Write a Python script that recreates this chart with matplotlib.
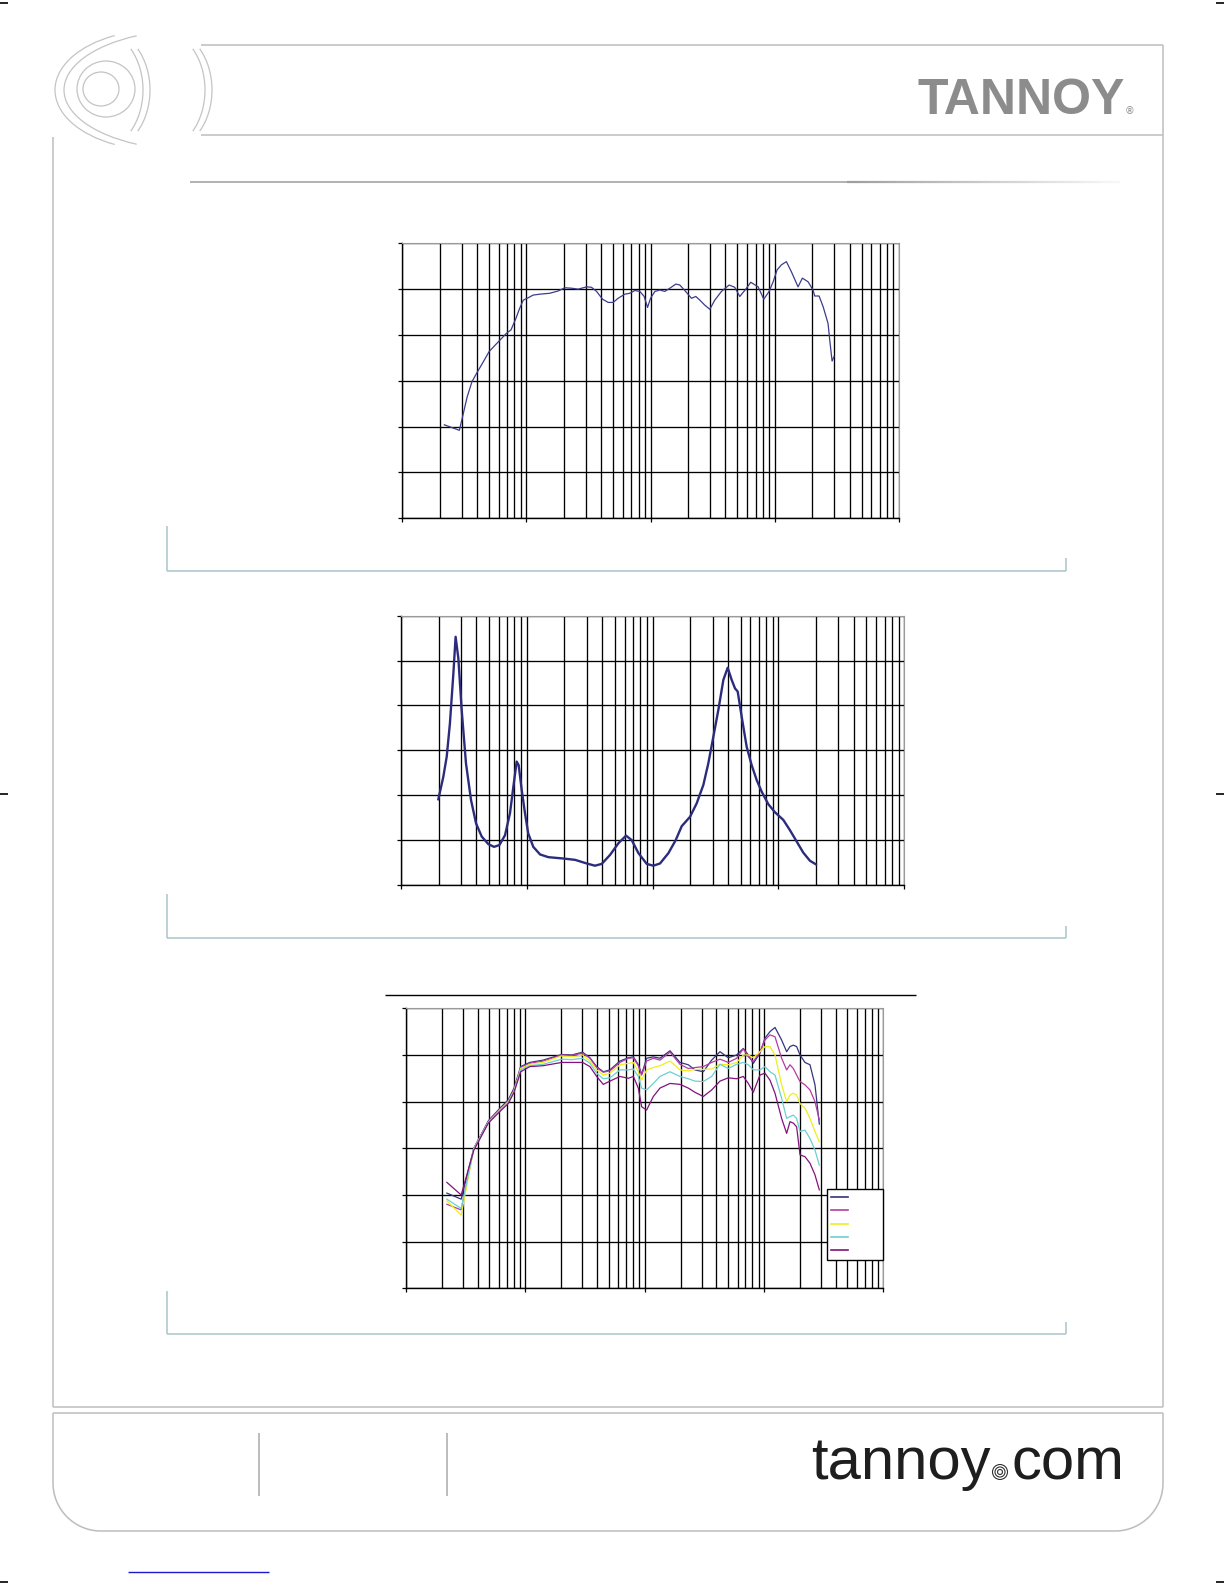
import numpy as np
import matplotlib
matplotlib.use("Agg")
import matplotlib.pyplot as plt
from matplotlib.patches import Arc, Ellipse, Circle
from matplotlib.lines import Line2D
from matplotlib.collections import LineCollection
from matplotlib.ticker import LogLocator, NullFormatter

# chart 1: on-axis frequency response (Hz, dB)
freq1 = [21.8, 28.8, 30.6, 33.3, 36.4, 39.6, 43.5, 50.1, 59.3, 69.2, 75.0, 82.2, 87.5, 94.2,
         103, 113, 128, 154, 180, 204, 231, 261, 305, 334, 367, 410, 455, 499, 547, 619, 680,
         746, 818, 887, 944, 998, 1081, 1186, 1301, 1427, 1595, 1717, 1884, 2133, 2311, 2489,
         2731, 2995, 3284, 3718, 4287, 4757, 5222, 5836, 6400, 7334, 8150, 8996, 9690, 10430,
         11300, 12390, 13590, 15380, 16670, 18520, 20320, 20950, 22710, 24470, 26840, 27680,
         28910, 29990]
spl1 = [60.4, 59.2, 62.2, 66.5, 69.8, 71.6, 73.5, 76.4, 78.5, 80.4, 81.1, 83.6, 85.6, 87.6,
        88.1, 88.7, 88.9, 89.1, 89.6, 90.3, 90.2, 90.0, 90.5, 90.4, 89.5, 87.8, 87.1, 87.1, 88.0,
        88.9, 89.1, 89.7, 89.5, 88.4, 86.0, 88.0, 89.5, 89.8, 89.5, 90.2, 91.1, 90.9, 89.7, 88.0,
        88.4, 87.6, 86.5, 85.6, 87.6, 89.5, 90.9, 90.4, 88.4, 90.0, 91.5, 90.5, 87.8, 89.5, 91.6,
        94.2, 95.3, 96.0, 93.8, 90.5, 92.4, 91.6, 89.8, 88.5, 88.5, 86.2, 82.5, 78.9, 74.3, 75.3]

# chart 2: impedance (Hz, ohm)
freq2 = [19.9, 21.8, 23.2, 24.6, 26.2, 27.3, 28.7, 30.5, 33.0, 36.2, 39.7, 44.0, 49.7, 55.1,
         60.8, 67.4, 73.8, 78.5, 83.4, 86.5, 91.4, 97.1, 103, 113, 128, 149, 196, 243, 300, 349,
         395, 460, 536, 616, 684, 773, 900, 1016, 1148, 1338, 1529, 1706, 1987, 2244, 2535, 2775,
         3041, 3334, 3655, 3954, 4256, 4522, 4750, 5108, 5598, 6133, 6719, 7364, 8318, 9396,
         10940, 12360, 13960, 15770, 17810, 19870]
imp2 = [19.1, 24.1, 28.6, 36.0, 47.1, 55.3, 50.5, 39.0, 27.1, 18.9, 13.7, 10.8, 9.1, 8.5, 8.9,
        11.1, 16.0, 21.9, 27.5, 26.7, 21.2, 16.0, 11.5, 8.5, 6.8, 6.2, 5.9, 5.6, 4.8, 4.3, 4.7,
        6.7, 9.3, 11.0, 10.0, 7.1, 4.7, 4.3, 4.8, 7.1, 10.0, 13.1, 15.2, 18.2, 22.3, 27.1, 33.0,
        39.0, 45.7, 48.4, 45.7, 43.8, 43.1, 37.5, 30.8, 26.7, 23.4, 20.8, 18.0, 16.2, 14.5, 12.2,
        9.7, 7.2, 5.4, 4.6]

# chart 3: off-axis responses (Hz, dB)
freq3 = [22, 29, 37, 40.4, 49, 61.3, 72, 80.4, 91.4, 109, 141, 202, 245, 302, 348, 396, 450,
         512, 621, 730, 804, 885, 944, 1039, 1182, 1344, 1631, 1978, 2322, 2641, 3101, 3643,
         4280, 5025, 5901, 6711, 7390, 8138, 9258, 10190, 11230, 12370, 14060, 15490, 16520,
         17620, 18780, 20040, 22060, 24300, 26760, 29090]
spl_0 = [60.4, 59.1, 70.0, 71.8, 75.9, 78.6, 80.4, 82.9, 87.5, 88.4, 88.9, 90.1, 90.0, 90.6,
         89.4, 87.5, 86.4, 86.8, 88.7, 89.4, 89.6, 87.9, 85.9, 89.3, 89.6, 89.3, 90.9, 88.4,
         87.9, 86.8, 86.4, 88.9, 90.7, 89.4, 90.0, 91.4, 90.0, 88.2, 90.4, 93.6, 95.0, 95.9,
         93.2, 90.7, 91.8, 92.1, 91.8, 90.0, 88.4, 87.9, 83.6, 75.2]
spl_15 = [58.0, 56.8, 70.0, 71.8, 75.7, 78.4, 80.1, 82.5, 87.3, 88.2, 88.7, 90.0, 89.9, 90.4,
          89.3, 87.3, 86.3, 86.6, 88.4, 89.3, 89.4, 87.7, 85.7, 88.7, 89.3, 88.9, 90.6, 88.0,
          87.1, 87.3, 87.5, 88.4, 89.1, 88.4, 89.3, 91.3, 89.6, 88.6, 90.6, 93.2, 94.3, 93.9,
          89.3, 86.8, 87.9, 87.1, 85.7, 84.3, 83.6, 82.5, 80.0, 76.1]
spl_30 = [58.7, 55.7, 69.9, 71.6, 75.6, 78.2, 80.0, 82.3, 87.1, 88.0, 88.4, 89.8, 89.6, 90.0,
          88.7, 86.8, 85.7, 86.1, 87.9, 88.2, 88.4, 86.4, 84.6, 86.8, 87.3, 87.7, 88.7, 86.8,
          86.6, 86.9, 86.9, 87.0, 88.0, 87.9, 88.4, 90.0, 90.0, 89.4, 90.7, 91.8, 91.8, 90.0,
          83.6, 80.0, 81.4, 81.8, 81.4, 79.6, 78.6, 76.4, 73.6, 71.4]
spl_45 = [59.1, 57.1, 69.9, 71.6, 75.6, 78.2, 79.9, 82.1, 86.8, 87.7, 88.0, 89.1, 89.0, 89.3,
          88.2, 86.1, 84.9, 85.1, 86.8, 86.8, 87.0, 85.4, 82.9, 82.5, 83.9, 85.4, 86.4, 85.4,
          84.9, 84.4, 84.3, 85.4, 88.0, 87.1, 88.0, 88.4, 87.9, 86.8, 86.8, 87.5, 86.4, 85.7,
          80.7, 76.4, 76.8, 77.1, 76.4, 73.6, 73.9, 72.1, 69.6, 66.4]
spl_60 = [62.7, 60.0, 69.6, 71.4, 75.4, 77.9, 79.6, 82.0, 86.4, 87.5, 87.7, 88.4, 88.4, 88.4,
          87.5, 85.4, 83.7, 84.4, 85.4, 85.0, 85.4, 82.9, 78.9, 78.2, 81.1, 82.9, 83.9, 83.7,
          82.9, 82.0, 81.1, 82.5, 84.4, 85.1, 84.9, 85.4, 83.9, 82.0, 85.7, 86.1, 84.6, 81.8,
          76.4, 73.2, 75.7, 75.4, 74.6, 68.6, 68.2, 66.8, 64.3, 61.1]
off_axis = [spl_0, spl_15, spl_30, spl_45, spl_60]
off_colors = ['#34347e', '#b43ca2', '#eeee1e', '#6ccfd2', '#82127e']

W, H = 1224, 1584
FRAME = '#bdbdbd'
BOX = '#a9c5cc'


def px_axes(fig, left, top, right, bottom):
    return fig.add_axes([left / W, 1 - bottom / H, (right - left) / W, (bottom - top) / H])


def setup_freq_axes(ax, ylo, yhi, step):
    ax.set_xscale('log')
    ax.set_xlim(10, 100000)
    ax.set_ylim(ylo, yhi)
    ax.set_yticks(np.arange(ylo, yhi + step, step))
    ax.xaxis.set_major_locator(LogLocator(base=10, numticks=10))
    ax.xaxis.set_minor_locator(LogLocator(base=10, subs=np.arange(2, 10), numticks=20))
    ax.xaxis.set_minor_formatter(NullFormatter())
    ax.grid(True, which='both', color='black', lw=0.95)
    ax.set_axisbelow(True)
    ax.tick_params(which='minor', length=0)
    ax.tick_params(which='major', direction='out', length=3, width=0.9,
                   labelbottom=False, labelleft=False)
    for s in ['top', 'right']:
        ax.spines[s].set_color('#9a9a9a')
    for s in ['left', 'bottom']:
        ax.spines[s].set_color('black')
        ax.spines[s].set_linewidth(1.0)


fig = plt.figure(figsize=(W / 100, H / 100), dpi=100)

# page background: frame, header, footer
bg = fig.add_axes([0, 0, 1, 1], zorder=-5)
bg.set_xlim(0, W)
bg.set_ylim(H, 0)
bg.axis('off')

def seg(x0, y0, x1, y1, color=FRAME, lw=1.1):
    bg.add_line(Line2D([x0, x1], [y0, y1], color=color, lw=lw, solid_capstyle='butt'))

seg(201, 44.5, 1163, 44.5)
seg(201, 135, 1163, 135)
seg(1163, 44.5, 1163, 1407)
seg(53, 137, 53, 1407)
seg(53, 1407, 1163, 1407)
# footer panel with rounded bottom corners
seg(53, 1413, 1163, 1413)
seg(53, 1413, 53, 1483)
seg(1163, 1413, 1163, 1483)
seg(101, 1531, 1115, 1531)
bg.add_patch(Arc((101, 1483), 96, 96, theta1=90, theta2=180, color=FRAME, lw=1.1))
bg.add_patch(Arc((1115, 1483), 96, 96, theta1=0, theta2=90, color=FRAME, lw=1.1))
seg(259, 1433, 259, 1496, color='#b0b0b0', lw=1.2)
seg(447, 1433, 447, 1496, color='#b0b0b0', lw=1.2)

# header logo arcs
LOGO = '#c4c4c4'
bg.add_patch(Arc((158, 90), 206, 120, theta1=128.5, theta2=231.5, color=LOGO, lw=0.9))
bg.add_patch(Arc((191, 90), 254, 120, theta1=135, theta2=225, color=LOGO, lw=0.9))
bg.add_patch(Arc((105, 90), 90, 120, theta1=-51.5, theta2=51.5, color=LOGO, lw=0.9))
bg.add_patch(Arc((98, 90), 90, 120, theta1=-51.5, theta2=51.5, color=LOGO, lw=0.9))
bg.add_patch(Arc((167, 90), 90, 120, theta1=-51.5, theta2=51.5, color=LOGO, lw=0.9))
bg.add_patch(Arc((160, 90), 90, 120, theta1=-51.5, theta2=51.5, color=LOGO, lw=0.9))
bg.add_patch(Ellipse((101, 89), 36, 34, fill=False, ec=LOGO, lw=0.9))
bg.add_patch(Ellipse((106, 89), 58, 56, fill=False, ec=LOGO, lw=0.9))

bg.text(917, 114, 'TANNOY', fontsize=36, fontweight='bold', color='#8c8c8c',
        family=['Liberation Sans Narrow', 'Liberation Sans', 'DejaVu Sans'],
        ha='left', va='baseline')
bg.text(1125, 114, '®', fontsize=7, color='#8c8c8c', ha='left', va='baseline')

# rule under header with fading end
seg(190, 182, 847, 182, color='#ababab', lw=1.3)
xs = np.linspace(847, 1120, 40)
segs = [[(xs[i], 182), (xs[i + 1], 182)] for i in range(len(xs) - 1)]
shades = np.linspace(0.62, 0.97, len(segs))
bg.add_collection(LineCollection(segs, colors=[(s, s, s) for s in shades], lw=1.6))

# light boxes under each chart
for top, bottom, rtop in [(526, 571, 558), (894, 938, 926), (1291, 1334, 1322)]:
    seg(166.7, top, 166.7, bottom, color=BOX, lw=1.1)
    seg(166.7, bottom, 1066, bottom, color=BOX, lw=1.1)
    seg(1066, rtop, 1066, bottom, color=BOX, lw=1.1)

# rule above chart 3
seg(385, 995, 916, 995, color='black', lw=1.0)

# footer text
tfam = ['Liberation Sans', 'DejaVu Sans']
bg.text(811, 1479, 'tannoy', fontsize=43, color='#1e1e1e', family=tfam,
        ha='left', va='baseline')
bg.text(1124, 1479, 'com', fontsize=43, color='#1e1e1e', family=tfam,
        ha='right', va='baseline')
for r in [7.5, 5, 2.5]:
    bg.add_patch(Circle((1000, 1472), r, fill=False, ec='#333333', lw=0.8))

seg(128, 1572, 269, 1572, color='#1a1acc', lw=1.0)

# crop marks
for y in [3, 794, 1582]:
    seg(0, y, 8, y, color='black', lw=1.2)
    seg(W - 8, y, W, y, color='black', lw=1.2)

# chart 1
ax1 = px_axes(fig, 402.3, 243.3, 899, 518.3)
setup_freq_axes(ax1, 40, 100, 10)
ax1.plot(freq1, spl1, color='#3c3c8c', lw=0.9)

# chart 2
ax2 = px_axes(fig, 400.7, 615.7, 904.3, 885)
setup_freq_axes(ax2, 0, 60, 10)
ax2.plot(freq2, imp2, color='#2c2c7c', lw=1.7)

# chart 3
ax3 = px_axes(fig, 406, 1008.3, 883.3, 1288.3)
setup_freq_axes(ax3, 40, 100, 10)
lines = []
for vals, col in zip(off_axis, off_colors):
    ln, = ax3.plot(freq3, vals, color=col, lw=0.9)
    lines.append(ln)
leg = ax3.legend(lines, [''] * len(lines), loc='upper left',
                 bbox_to_anchor=(827 / W, 1 - 1189 / H), bbox_transform=fig.transFigure,
                 borderaxespad=0, fontsize=8, handlelength=1.5, handletextpad=2.8,
                 borderpad=0.35, labelspacing=0.3, fancybox=False, framealpha=1)
leg.get_frame().set_edgecolor('black')
leg.get_frame().set_linewidth(1.0)
for h in leg.get_lines():
    h.set_linewidth(1.2)

fig.savefig('out.png', dpi=100)
